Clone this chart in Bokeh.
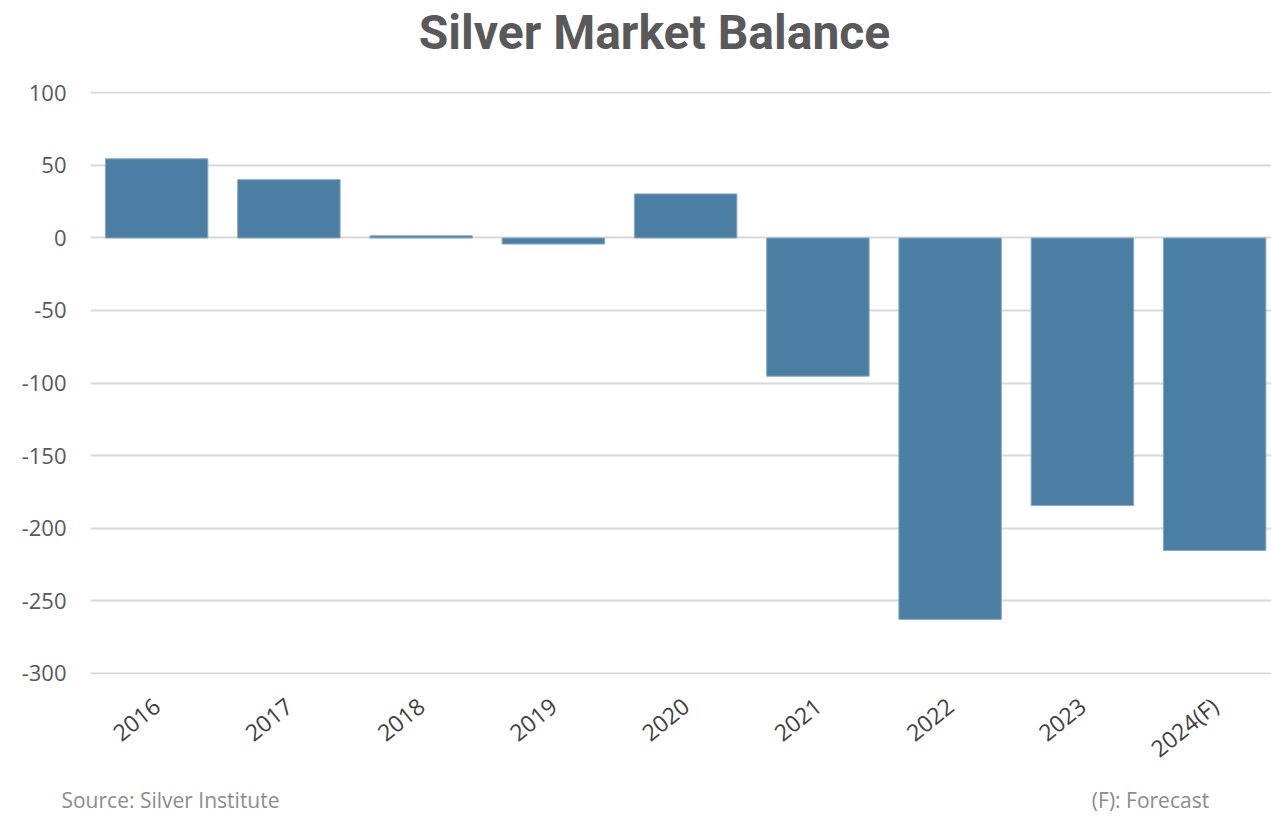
from bokeh.plotting import figure
from bokeh.models import Range1d, FixedTicker, LinearAxis
from bokeh.embed import file_html
from bokeh.resources import INLINE

years = ["2016", "2017", "2018", "2019", "2020", "2021", "2022", "2023", "2024(F)"]
balance = [54.6, 40.2, 1.5, -4.2, 30.4, -95.3, -263.0, -184.5, -215.5]
y_ticks = [100, 50, 0, -50, -100, -150, -200, -250, -300]
title_text = "Silver Market Balance"
source_text = "Source: Silver Institute"
note_text = "(F): Forecast"

xs = list(range(len(years)))

W, H = 1271, 816
LEFT, TOP, BOTTOM = 90, 91, 142
FRAME_W = W - LEFT

p = figure(width=W, height=H, output_backend="svg", toolbar_location=None,
           x_range=Range1d(-0.5, 8.43), y_range=Range1d(-301, 101),
           min_border_left=LEFT, min_border_right=0, min_border_top=TOP,
           min_border_bottom=BOTTOM)
p.outline_line_color = None
p.background_fill_color = "white"
p.border_fill_color = "white"
# pixel-based helper range for placing the title and footnotes
p.extra_x_ranges = {"px": Range1d(0, FRAME_W)}

p.vbar(x=xs, top=balance, bottom=0, width=0.775, fill_color="#4A7EA3",
       line_color="#8aaac4", line_width=1)

# category axis
p.xaxis.ticker = FixedTicker(ticks=xs)
p.xaxis.major_label_overrides = {i: y for i, y in enumerate(years)}
p.xaxis.major_label_orientation = 0.68
p.xaxis.major_label_text_font = "Open Sans"
p.xaxis.major_label_text_font_size = "23px"
p.xaxis.major_label_text_color = "#404040"
p.xaxis.axis_line_color = None
p.xaxis.major_tick_line_color = None
p.xaxis.minor_tick_line_color = None
p.xaxis.major_label_standoff = 22

# value axis
p.yaxis.ticker = FixedTicker(ticks=y_ticks)
p.yaxis.major_label_overrides = {t: str(t) for t in y_ticks}
p.yaxis.major_label_text_font = "Open Sans"
p.yaxis.major_label_text_font_size = "22px"
p.yaxis.major_label_text_color = "#595959"
p.yaxis.axis_line_color = None
p.yaxis.major_tick_line_color = None
p.yaxis.minor_tick_line_color = None
p.yaxis.major_label_standoff = 18

p.xgrid.grid_line_color = None
p.ygrid.ticker = FixedTicker(ticks=y_ticks)
p.ygrid.grid_line_color = "#d9d9d9"
p.ygrid.grid_line_width = 2


def text_axis(ticks, labels, font, size, color, style, standoff):
    ax = LinearAxis(x_range_name="px", ticker=FixedTicker(ticks=ticks),
                    major_label_overrides=dict(zip(ticks, labels)))
    ax.axis_line_color = None
    ax.major_tick_line_color = None
    ax.minor_tick_line_color = None
    ax.major_label_text_font = font
    ax.major_label_text_font_size = size
    ax.major_label_text_color = color
    ax.major_label_text_font_style = style
    ax.major_label_standoff = standoff
    return ax


title_ax = text_axis([564], [title_text], "Roboto", "48px", "#595959", "bold", 25)
p.add_layout(title_ax, "above")

foot_ax = text_axis([80, 1060], [source_text, note_text], "Open Sans", "21px",
                    "#8c8c8c", "normal", 0)
p.add_layout(foot_ax, "below")

open("out.html", "w").write(file_html(p, INLINE))
